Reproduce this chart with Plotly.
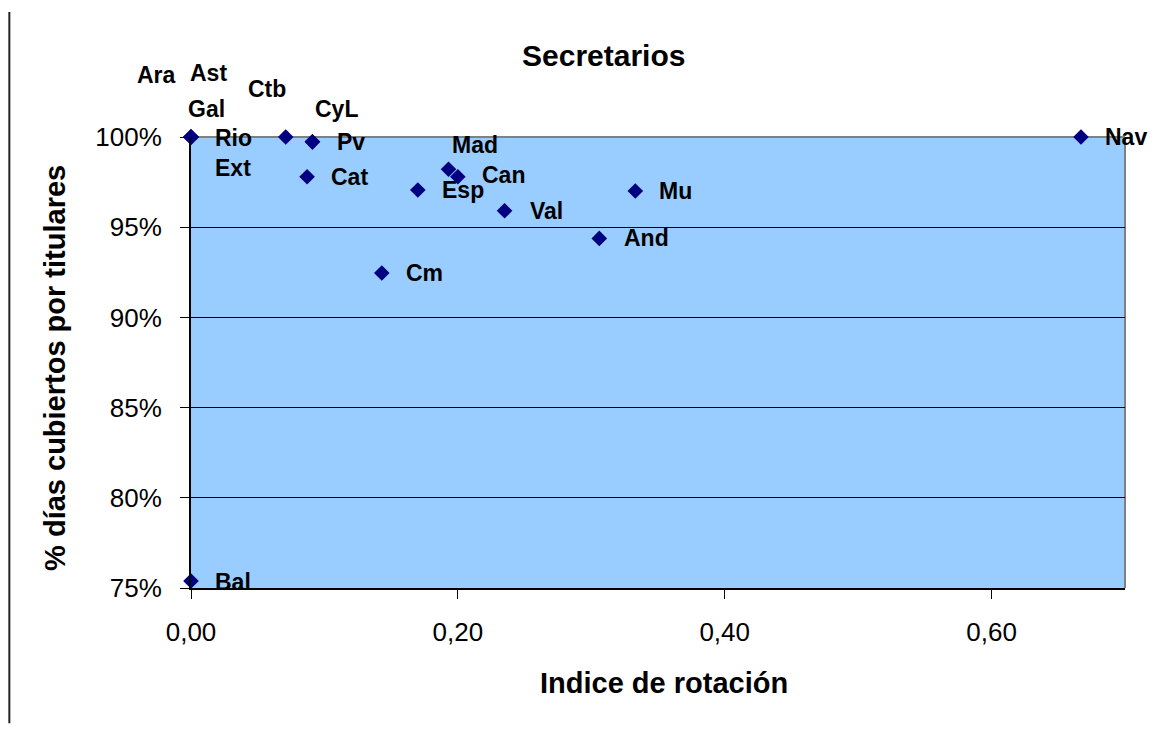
import plotly.graph_objects as go

# ---- data ----
regions = ["Ara", "Ast", "Gal", "Rio", "Ext", "Ctb", "CyL", "Pv", "Cat", "Esp",
           "Mad", "Can", "Val", "Mu", "And", "Cm", "Nav", "Bal"]
rotation = [0.0, 0.0, 0.0, 0.0, 0.0, 0.071, 0.091, 0.091, 0.087, 0.170,
            0.193, 0.200, 0.235, 0.333, 0.306, 0.143, 0.667, 0.0]
coverage = [1.000, 1.000, 1.000, 1.000, 1.000, 1.000, 0.9973, 0.9973, 0.9780, 0.9706,
            0.9821, 0.9780, 0.9591, 0.9701, 0.9438, 0.9246, 1.000, 0.7539]
x_ticks = [0.0, 0.2, 0.4, 0.6]
y_ticks = [0.75, 0.80, 0.85, 0.90, 0.95, 1.00]

# label offsets in pixels (left edge dx, centre dy downwards) -- styling only
label_offsets = {
    "Ara": (-56, -62), "Ast": (-3, -64), "Gal": (-5, -28), "Rio": (22, 1),
    "Ext": (22, 31), "Ctb": (-40, -48), "CyL": (1, -33), "Pv": (23, 0),
    "Cat": (22, 0), "Esp": (22, 0), "Mad": (1, -24), "Can": (22, -2),
    "Val": (23, 0), "Mu": (22, 0), "And": (23, 0), "Cm": (22, 0),
    "Nav": (22, 0), "Bal": (22, 1),
}

FONT = "Arial, 'Liberation Sans', sans-serif"

fig = go.Figure()
fig.add_trace(go.Scatter(
    x=rotation, y=coverage, mode="markers",
    marker=dict(symbol="diamond", size=12, color="#000080"),
    cliponaxis=False, showlegend=False, hoverinfo="skip",
))

annotations = []
for name, xv, yv in zip(regions, rotation, coverage):
    dx, dy = label_offsets[name]
    annotations.append(dict(
        x=xv, y=yv, xref="x", yref="y", text=name, showarrow=False,
        xanchor="left", yanchor="middle", xshift=dx, yshift=-dy,
        font=dict(family=FONT, size=23, color="black", weight="bold"),
    ))

# chart title and axis titles
annotations.append(dict(
    x=0.442, y=1.18, xref="paper", yref="paper", text="Secretarios",
    showarrow=False, xanchor="center", yanchor="middle",
    font=dict(family=FONT, size=30, color="black", weight="bold"),
))
annotations.append(dict(
    x=0.506, y=-0.211, xref="paper", yref="paper", text="Indice de rotación",
    showarrow=False, xanchor="center", yanchor="middle",
    font=dict(family=FONT, size=29, color="black", weight="bold"),
))
annotations.append(dict(
    x=-0.1456, y=0.488, xref="paper", yref="paper", text="% días cubiertos por titulares",
    showarrow=False, xanchor="center", yanchor="middle", textangle=-90,
    font=dict(family=FONT, size=29, color="black", weight="bold"),
))

# the page body has an 8px margin, so the figure is 8px smaller and margins shifted
fig.update_layout(
    width=1168, height=727,
    margin=dict(l=183, r=51, t=129, b=147),
    paper_bgcolor="white", plot_bgcolor="#99CCFF",
    separators=",.",
    annotations=annotations,
    shapes=[
        # gray border top & right
        dict(type="line", xref="paper", yref="paper", x0=0, x1=1, y0=1, y1=1,
             line=dict(color="#808080", width=2), layer="below"),
        dict(type="line", xref="paper", yref="paper", x0=1, x1=1, y0=0, y1=1,
             line=dict(color="#808080", width=2), layer="below"),
        # left vertical rule of the page
        dict(type="line", xref="paper", yref="paper", x0=-0.1945, x1=-0.1945,
             y0=1.277, y1=-0.30, line=dict(color="#222222", width=2)),
    ],
)

fig.update_xaxes(
    range=[0, 0.70], tickvals=x_ticks, tickformat=".2f",
    showgrid=False, zeroline=False,
    showline=True, linecolor="black", linewidth=2,
    ticks="outside", ticklen=9, tickcolor="black", tickwidth=1,
    ticklabelstandoff=11,
    tickfont=dict(family=FONT, size=26, color="black"),
)
fig.update_yaxes(
    range=[0.75, 1.0], tickvals=y_ticks, tickformat=".0%",
    showgrid=True, gridcolor="black", gridwidth=1, zeroline=False,
    showline=True, linecolor="black", linewidth=2,
    ticks="outside", ticklen=9, tickcolor="black", tickwidth=1,
    ticklabelstandoff=13,
    tickfont=dict(family=FONT, size=26, color="black"),
)

fig.write_html("out.html")
